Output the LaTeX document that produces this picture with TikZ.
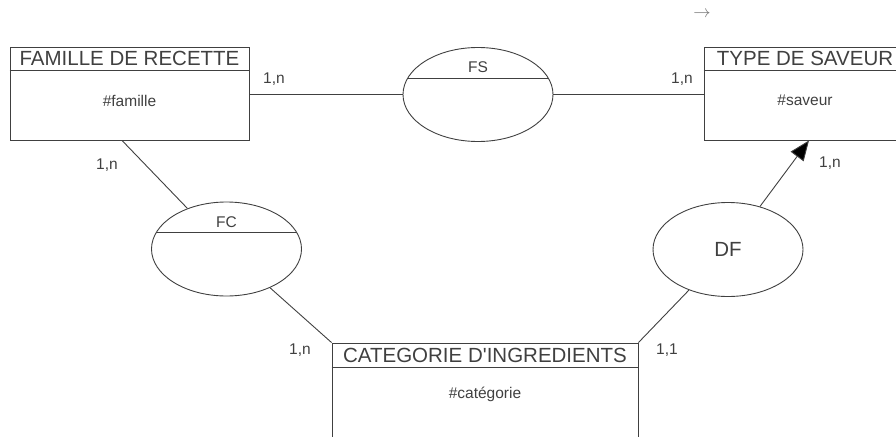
\documentclass[tikz,border=0pt]{standalone}
\usepackage{fontspec}
\newfontfamily\diagfont{Liberation Sans}
\usetikzlibrary{shapes.geometric,arrows.meta,positioning,calc}

\begin{document}
\begin{tikzpicture}[x=1pt,y=-1pt,
    line width=0.9pt,
    every node/.style={text=black!75},
    entity/.style={draw=black!75, rectangle, inner sep=0pt},
    assoc/.style={draw=black!75, ellipse, inner sep=0pt,
      minimum width=150pt, minimum height=94pt},
    title/.style={font=\diagfont\fontsize{20.5}{24}\selectfont, inner sep=0pt},
    attr/.style={font=\diagfont\fontsize{15.5}{18}\selectfont, inner sep=0pt},
    card/.style={font=\diagfont\fontsize{15.5}{18}\selectfont, inner sep=0pt},
    link/.style={draw=black!75}]
    \useasboundingbox (0,0) rectangle (896,436);
    \clip (0,0) rectangle (896,436);

    % entities
    \node[entity, minimum width=239pt, minimum height=93pt] (fam)  at (129.5,93.5) {};
    \node[entity, minimum width=202pt, minimum height=93pt] (type) at (805,93.5) {};
    \node[entity, minimum width=306pt, minimum height=110pt] (cat) at (485,398) {};

    \draw[link] ([yshift=-24pt]fam.north west)  -- ([yshift=-24pt]fam.north east);
    \draw[link] ([yshift=-24pt]type.north west) -- ([yshift=-24pt]type.north east);
    \draw[link] ([yshift=-25pt]cat.north west)  -- ([yshift=-25pt]cat.north east);

    \node[title] (famtitle)  at ([yshift=-12pt]fam.north)  {FAMILLE DE RECETTE};
    \node[title] (typetitle) at ([yshift=-12pt]type.north) {TYPE DE SAVEUR};
    \node[title] (cattitle)  at ([yshift=-12.5pt]cat.north) {CATEGORIE D'INGREDIENTS};

    \node[attr] (famid)  at ([yshift=-54pt]fam.north)  {\#famille};
    \node[attr] (typeid) at ([yshift=-54pt]type.north) {\#saveur};
    \node[attr] (catid)  at ([yshift=-52pt]cat.north)  {\#catégorie};

    % associations
    \node[assoc] (fs) at (478,94.5) {};
    \node[assoc] (fc) at (226.5,249) {};
    \node[assoc] (df) at (728,249.5) {\diagfont\fontsize{20.5}{24}\selectfont DF};

    \draw[link] (fs.167) -- (fs.13);
    \draw[link] (fc.167) -- (fc.13);
    \node[attr] (fslabel) at ([yshift=27pt]fs.center) {FS};
    \node[attr] (fclabel) at ([yshift=27pt]fc.center) {FC};

    % links
    \path[link]
    (fam.east |- fs) edge (fs)
    (fs) edge (fs -| type.west)
    (fc) edge ([xshift=-7.5pt]fam.south)
    (fc) edge (cat.north west)
    (cat.north east) edge (df)
    (df) edge[-{Triangle[length=20pt,width=16pt]}] ([xshift=4pt]type.south)
    ;

    % cardinalities
    \node[card] (c1) at (274,79)  {1,n};
    \node[card] (c2) at (682,79)  {1,n};
    \node[card] (c3) at (107,165) {1,n};
    \node[card] (c4) at (300,350) {1,n};
    \node[card] (c5) at (667,350) {1,1};
    \node[card] (c6) at (830,163) {1,n};

    \node[text=black!55, inner sep=0pt, font=\fontsize{16}{18}\selectfont] (arr) at (702,14) {$\rightarrow$};
  \end{tikzpicture}
\end{document}
